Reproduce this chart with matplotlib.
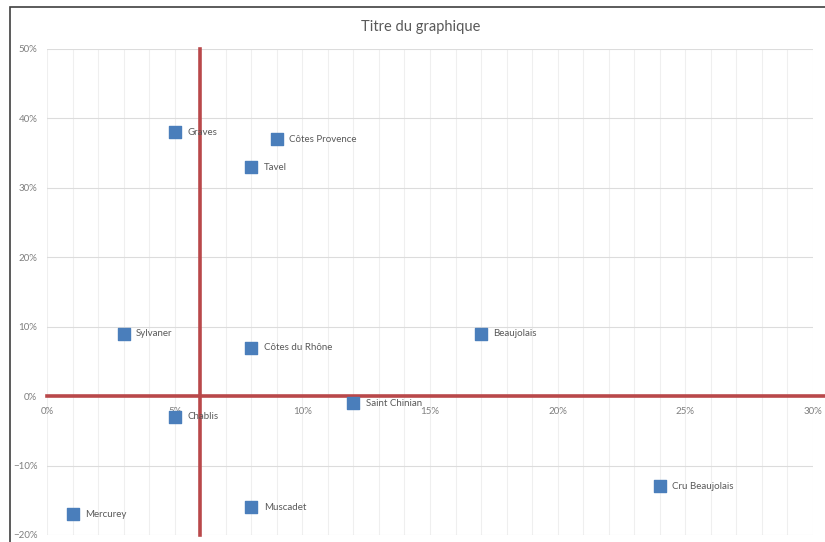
import matplotlib.pyplot as plt
from matplotlib.ticker import MultipleLocator, PercentFormatter
from matplotlib.patches import Rectangle

#
# Data (percent values)
#

names = ["Graves", "Côtes Provence", "Tavel", "Sylvaner", "Côtes du Rhône", "Beaujolais",
         "Saint Chinian", "Chablis", "Cru Beaujolais", "Mercurey", "Muscadet"]
x_vals = [5, 9, 8, 3, 8, 17, 12, 5, 24, 1, 8]
y_vals = [38, 37, 33, 9, 7, 9, -1, -3, -13, -17, -16]

v_line_x = 6          # vertical red separator
h_line_y = 0          # horizontal red separator

plt.rcParams['font.family'] = ['Lato', 'DejaVu Sans']

fig = plt.figure(figsize=(8.25, 5.42), dpi=100)
ax = fig.add_axes([47 / 825, 1 - 535 / 542, (813 - 47) / 825, (535 - 49) / 542])

# chart frame (cut at right and bottom like the screenshot)
fig.patches.append(Rectangle((10 / 825, -0.1), 1.2, 1 - 7 / 542 + 0.1, transform=fig.transFigure,
                             fill=False, edgecolor="#404040", linewidth=1.2))

ax.set_xlim(0, 30)
ax.set_ylim(-20, 50)

ax.xaxis.set_major_locator(MultipleLocator(5))
ax.xaxis.set_minor_locator(MultipleLocator(1))
ax.yaxis.set_major_locator(MultipleLocator(10))
ax.xaxis.set_major_formatter(PercentFormatter(decimals=0))
ax.yaxis.set_major_formatter(PercentFormatter(decimals=0))

ax.grid(axis="x", which="both", color="#EFEFEF", linewidth=0.8)
ax.grid(axis="y", which="major", color="#DCDCDC", linewidth=0.8)
ax.set_axisbelow(True)

for s in ax.spines.values():
    s.set_visible(False)
ax.spines['bottom'].set_position(('data', 0))

ax.tick_params(axis="both", which="both", length=0, labelsize=7, labelcolor="#7F7F7F")
ax.tick_params(axis="x", pad=8)
ax.tick_params(axis="y", pad=7)

# red separators
ax.plot([0, 31], [h_line_y, h_line_y], color="#B9484A", linewidth=2.6, clip_on=False, zorder=2)
ax.plot([v_line_x, v_line_x], [-20, 50], color="#B9484A", linewidth=2.6, clip_on=False, zorder=2)

ax.scatter(x_vals, y_vals, marker="s", s=85, color="#4A7EBB", zorder=3)
for n, x, y in zip(names, x_vals, y_vals):
    ax.annotate(n, (x, y), xytext=(9, 0), textcoords="offset points", va="center", ha="left",
                fontsize=7, color="#595959", zorder=4)

fig.text(421 / 825, 1 - 27 / 542, "Titre du graphique", ha="center", va="center",
         fontsize=10.5, color="#595959")

plt.savefig("out.png", dpi=100)
